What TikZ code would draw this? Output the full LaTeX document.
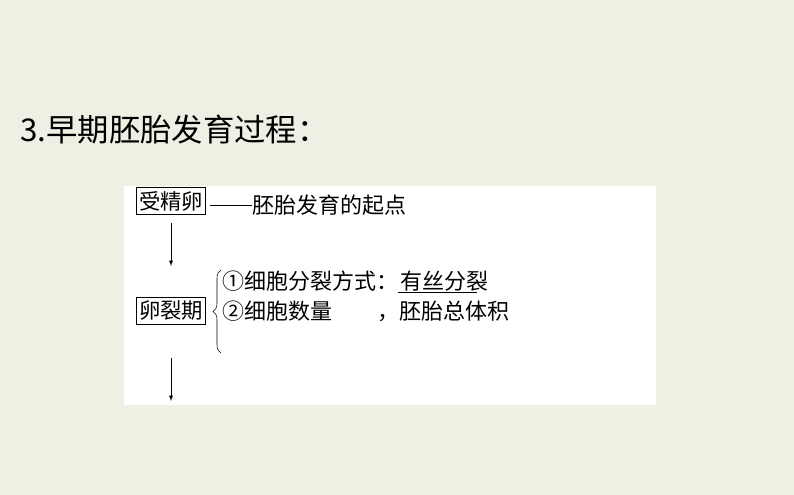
\documentclass[tikz,border=0pt]{standalone}
\usepackage{fontspec}
\newfontfamily\cjk{Noto Sans CJK SC}
\usetikzlibrary{decorations.pathreplacing}
\definecolor{bg}{HTML}{EEF0E4}
\tikzset{lbl/.style={font=\cjk\fontsize{16.5}{19}\selectfont,inner sep=0pt,anchor=west},
 boxn/.style={draw,thick,font=\cjk\fontsize{16}{19}\selectfont,inner sep=1pt,minimum height=20pt,minimum width=52pt},
 arr/.style={-latex,thin}}
\begin{document}
\begin{tikzpicture}[x=0.75pt,y=-0.75pt]
\fill[bg] (0,0) rectangle (794,495);
\useasboundingbox (0,0) rectangle (794,495);
\fill[white] (124,186) rectangle (656,405);
\node[anchor=west,font=\cjk\fontsize{23.5}{28}\selectfont,inner sep=0pt] (title) at (20,130) {3.早期胚胎发育过程：};
\node[boxn] (a) at (171,201) {受精卵};
\node[lbl] (at) at (252,205) {胚胎发育的起点};
\draw (a.east) ++(4,4) coordinate (d1) -- (at.west) ;
\node[boxn] (b) at (171,311) {卵裂期};
\draw[arr] (a.south) ++(0,8) coordinate (s1) -- (171,266) coordinate (e1);
\draw[arr] (171,358) coordinate (s2) -- (171,401) coordinate (e2);
\draw[decorate,decoration={brace,amplitude=6pt,mirror}] (221,270) coordinate (br1) -- (221,353) coordinate (br2);
\node[lbl] (l1) at (222,281) {①细胞分裂方式：};
\node[lbl] (l1b) at (400,281) {有丝分裂};
\draw (398,292) coordinate (u1) -- (477,292) coordinate (u2);
\node[lbl] (l2) at (222,311) {②细胞数量\hspace{34pt}，胚胎总体积};
\end{tikzpicture}
\end{document}
